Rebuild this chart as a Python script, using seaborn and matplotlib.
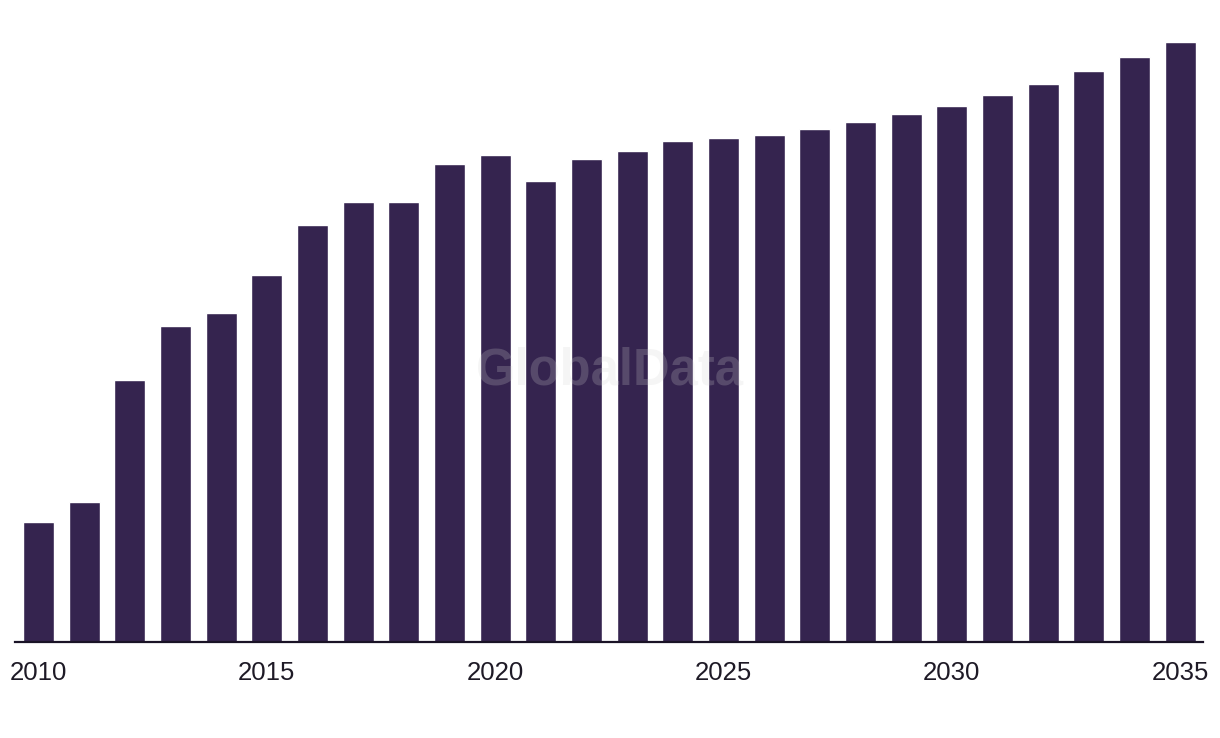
import matplotlib
matplotlib.use("Agg")
import matplotlib.pyplot as plt
import seaborn as sns
import pandas as pd

years = list(range(2010, 2036))
values = [120, 140, 261, 315, 328, 366, 416, 439, 439, 477, 486, 460, 482, 490,
          500, 503, 506, 512, 519, 527, 535, 546, 557, 570, 584, 599]
tick_years = [2010, 2015, 2020, 2025, 2030, 2035]

sns.set_theme(style="white")
plt.rcParams['font.family'] = ['Liberation Sans', 'DejaVu Sans']

df = pd.DataFrame({"year": [str(y) for y in years], "value": values})

fig = plt.figure(figsize=(12.2, 7.38), dpi=100)
ax = fig.add_axes([15/1220, 1 - 641.7/738, (1203 - 15)/1220, (641.7 - 42)/738])
sns.barplot(data=df, x="year", y="value", color="#35244f", width=0.68,
            saturation=1, ax=ax)

ax.set_xlim(-0.515, 25.5)
ax.set_ylim(0, max(values))
for s in ["top", "right", "left"]:
    ax.spines[s].set_visible(False)
ax.spines["bottom"].set_color("#1a1326")
ax.spines["bottom"].set_linewidth(1.6)
ax.set_yticks([])
ax.set_xlabel("")
ax.set_ylabel("")
pos = [years.index(y) for y in tick_years]
ax.set_xticks(pos)
ax.set_xticklabels([str(y) for y in tick_years], fontsize=18.5, color="#1e1a26")
ax.tick_params(axis="x", length=0, pad=14)

fig.text(610/1220, 1 - 371/738, "GlobalData", ha="center", va="center",
         fontsize=36.5, fontweight="bold", color="#d2d2d2", alpha=0.22)

fig.savefig("out.png", dpi=100, facecolor="white")
